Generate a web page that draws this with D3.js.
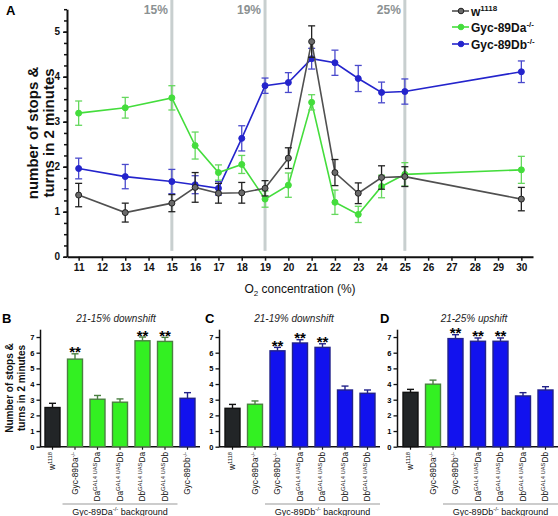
<!DOCTYPE html>
<html><head><meta charset="utf-8">
<script src="https://cdn.jsdelivr.net/npm/d3@7"></script>
<style>body{margin:0;background:#fff} svg{display:block} text{font-family:"Liberation Sans",Arial,sans-serif}</style>
</head><body>
<svg id="c" width="558" height="516"></svg>
<script>
// ---------- Panel A data ----------
const o2 = [11,13,15,16,17,18,19,20,21,22,23,24,25,30];
const xTicksA = [11,12,13,14,15,16,17,18,19,20,21,22,23,24,25,26,27,28,29,30];
const yTicksA = [0,1,2,3,4,5];
const w1118Mean = [1.37,0.98,1.19,1.54,1.41,1.42,1.52,2.19,4.78,1.87,1.41,1.76,1.78,1.28];
const w1118Err  = [0.26,0.21,0.19,0.33,0.22,0.23,0.17,0.23,0.35,0.29,0.23,0.26,0.22,0.26];
const daMean = [3.19,3.31,3.53,2.47,1.87,2.05,1.28,1.59,3.43,1.21,0.94,1.56,1.83,1.93];
const daErr  = [0.27,0.23,0.27,0.30,0.17,0.20,0.18,0.27,0.17,0.27,0.18,0.25,0.26,0.30];
const dbMean = [1.96,1.78,1.67,1.60,1.52,2.63,3.80,3.87,4.40,4.31,3.96,3.65,3.67,4.11];
const dbErr  = [0.23,0.27,0.27,0.20,0.15,0.28,0.17,0.22,0.23,0.28,0.29,0.23,0.28,0.24];
const shiftLines = [15,19,25];
const shiftLabels = ["15%","19%","25%"];
const seriesNames = ["w^{1118}","Gyc-89Da^{-/-}","Gyc-89Db^{-/-}"];

// ---------- Panels B-D data ----------
const yTicksBar = [0,1,2,3,4,5,6,7];
const catsB = ["w^{1118}","Gyc-89Da^{-/-}","Da^{GAL4 UAS}Da","Da^{GAL4 UAS}Db","Db^{GAL4 UAS}Da","Db^{GAL4 UAS}Db","Gyc-89Db^{-/-}"];
const colB  = ["k","g","g","g","g","g","b"];
const valB  = [2.50,5.59,3.03,2.84,6.76,6.72,3.09];
const errB  = [0.27,0.34,0.24,0.21,0.24,0.26,0.36];
const sigB  = [0,1,0,0,1,1,0];
const catsCD = ["w^{1118}","Gyc-89Da^{-/-}","Gyc-89Db^{-/-}","Da^{GAL4 UAS}Da","Da^{GAL4 UAS}Db","Db^{GAL4 UAS}Da","Db^{GAL4 UAS}Db"];
const colCD = ["k","g","b","b","b","b","b"];
const valC  = [2.45,2.71,6.12,6.62,6.34,3.62,3.41];
const errC  = [0.25,0.21,0.22,0.21,0.23,0.25,0.21];
const sigC  = [0,0,1,1,1,0,0];
const valD  = [3.47,3.99,6.90,6.73,6.73,3.24,3.62];
const errD  = [0.19,0.26,0.25,0.21,0.21,0.21,0.21];
const sigD  = [0,0,1,1,1,0,0];

const svg = d3.select("#c");
const FONT = '"Liberation Sans",Arial,sans-serif';

function richText(sel, str, supSize, supShift) {
  const parts = str.split(/\^\{([^}]*)\}/);
  let pend = 0;
  parts.forEach((p, i) => {
    if (p === "") return;
    const t = sel.append("tspan").text(p);
    if (i % 2 === 1) {
      t.attr("dy", -supShift + pend).attr("font-size", supSize);
      pend = supShift;
    } else {
      if (pend) t.attr("dy", pend);
      pend = 0;
    }
  });
}

// ================= Panel A =================
const xA = d3.scaleLinear().domain([10.5,30.5]).range([67,533]);
const yA = d3.scaleLinear().domain([0,5.5]).range([256.7,9.2]);
const gA = svg.append("g");

gA.selectAll("line.shift").data(shiftLines).join("line")
  .attr("x1", d => xA(d)).attr("x2", d => xA(d))
  .attr("y1", 0).attr("y2", yA(0.13))
  .attr("stroke", "#c8cfcf").attr("stroke-width", 3);
gA.selectAll("text.shift").data(shiftLines).join("text")
  .attr("x", d => xA(d) - 4).attr("y", 14)
  .attr("text-anchor", "end").attr("font-size", 12).attr("font-weight", "bold")
  .attr("fill", "#8b9192").text((d, i) => shiftLabels[i]);

// axes
const yAxA = gA.append("g").attr("transform", "translate(67,0)")
  .call(d3.axisLeft(yA).tickValues(yTicksA).tickFormat(d3.format("d")).tickSize(4).tickSizeOuter(0).tickPadding(3));
const yMinor = gA.append("g").attr("transform", "translate(67,0)")
  .call(d3.axisLeft(yA).tickValues(d3.range(0, 5.51, 0.25)).tickSize(3).tickSizeOuter(0).tickFormat(""));
yMinor.select(".domain").remove();
const xAxA = gA.append("g").attr("transform", "translate(0," + yA(0) + ")")
  .call(d3.axisBottom(xA).tickValues(xTicksA).tickFormat(d3.format("d")).tickSize(4).tickSizeOuter(0).tickPadding(3));
[yAxA, xAxA].forEach(a => {
  a.select(".domain").attr("stroke", "#111").attr("stroke-width", 2);
  a.selectAll("text").attr("font-size", 10).attr("font-weight", "bold").attr("font-family", FONT).attr("fill", "#111");
});
gA.selectAll(".tick line").attr("stroke", "#111").attr("stroke-width", 1.5);

// axis titles
const yt = gA.append("g").attr("transform", "translate(0,133) rotate(-90)");
yt.append("text").attr("x", 0).attr("y", 38).attr("text-anchor", "middle")
  .attr("font-size", 15).attr("font-weight", "bold").attr("fill", "#111").text("number of stops &");
yt.append("text").attr("x", 0).attr("y", 54).attr("text-anchor", "middle")
  .attr("font-size", 15).attr("font-weight", "bold").attr("fill", "#111").text("turns in 2 minutes");
const xt = gA.append("text").attr("x", 300).attr("y", 293).attr("text-anchor", "middle")
  .attr("font-size", 12).attr("fill", "#111");
xt.append("tspan").text("O");
xt.append("tspan").attr("dy", 3).attr("font-size", 8).text("2");
xt.append("tspan").attr("dy", -3).text(" concentration (%)");

gA.append("text").attr("x", 6).attr("y", 15).attr("font-size", 13).attr("font-weight", "bold").text("A");

const series = [
  {mean: dbMean, err: dbErr, line: "#2424cc", fill: "#2424cc", stroke: "#2424cc", eb: "#4a4acc"},
  {mean: daMean, err: daErr, line: "#44dd3c", fill: "#44dd3c", stroke: "#44dd3c", eb: "#66d85e"},
  {mean: w1118Mean, err: w1118Err, line: "#505050", fill: "#6a6a6a", stroke: "#222", eb: "#222"}
];
series.forEach(s => {
  const pts = o2.map((x, i) => ({x, m: s.mean[i], e: s.err[i]}));
  const g = gA.append("g");
  g.append("path").datum(pts)
    .attr("d", d3.line().x(d => xA(d.x)).y(d => yA(d.m)))
    .attr("fill", "none").attr("stroke", s.line).attr("stroke-width", 1.6);
  const eb = g.selectAll("g.eb").data(pts).join("g").attr("stroke", s.eb).attr("stroke-width", 1.3);
  eb.append("line").attr("x1", d => xA(d.x)).attr("x2", d => xA(d.x))
    .attr("y1", d => yA(d.m - d.e)).attr("y2", d => yA(d.m + d.e));
  eb.append("line").attr("x1", d => xA(d.x) - 3.5).attr("x2", d => xA(d.x) + 3.5)
    .attr("y1", d => yA(d.m + d.e)).attr("y2", d => yA(d.m + d.e));
  eb.append("line").attr("x1", d => xA(d.x) - 3.5).attr("x2", d => xA(d.x) + 3.5)
    .attr("y1", d => yA(d.m - d.e)).attr("y2", d => yA(d.m - d.e));
  g.selectAll("circle").data(pts).join("circle")
    .attr("cx", d => xA(d.x)).attr("cy", d => yA(d.m)).attr("r", 3)
    .attr("fill", s.fill).attr("stroke", s.stroke).attr("stroke-width", 1);
});

// legend
const legY = [11, 27, 44];
const legOrder = [2, 1, 0];
legOrder.forEach((si, k) => {
  const s = series[si];
  const y = legY[k];
  gA.append("line").attr("x1", 452).attr("x2", 469).attr("y1", y).attr("y2", y)
    .attr("stroke", s.line).attr("stroke-width", 1.6);
  gA.append("circle").attr("cx", 461).attr("cy", y).attr("r", 2.8)
    .attr("fill", s.fill).attr("stroke", s.stroke).attr("stroke-width", 1);
  const t = gA.append("text").attr("x", 471).attr("y", y + 4.5)
    .attr("font-size", 12).attr("font-weight", "bold").attr("fill", "#111");
  richText(t, seriesNames[k], 8, 5);
});

// ================= Panels B-D =================
const barFill = {k: "#222527", g: "#33f022", b: "#1212ee"};
const barStroke = {k: "#111", g: "#4a8040", b: "#22228a"};
const yBar = d3.scaleLinear().domain([0,7.5]).range([446.7,329.2]);

function panel(o) {
  const g = svg.append("g");
  const x = d3.scaleBand().domain(o.cats).range([o.x0, o.x0 + 150]).paddingInner(1/3).paddingOuter(0);
  const ax = g.append("g").attr("transform", "translate(" + o.axisX + ",0)")
    .call(d3.axisLeft(yBar).tickValues(yTicksBar).tickFormat(d3.format("d")).tickSize(3.5).tickSizeOuter(0).tickPadding(2));
  ax.select(".domain").attr("stroke", "#111").attr("stroke-width", 1.5);
  ax.selectAll("text").attr("font-size", 7.5).attr("font-weight", "bold").attr("font-family", FONT);
  ax.selectAll(".tick line").attr("stroke", "#111").attr("stroke-width", 1.3);
  const bx = g.append("g").attr("transform", "translate(0," + yBar(0) + ")")
    .call(d3.axisBottom(x).tickSize(3).tickSizeOuter(0).tickFormat(""));
  bx.select(".domain").attr("stroke", "#111").attr("stroke-width", 1.5)
    .attr("d", "M" + o.axisX + ",0H" + (o.x0 + 155));
  bx.selectAll(".tick line").attr("stroke", "#111").attr("stroke-width", 1.2);
  bx.selectAll(".tick text").remove();

  const data = o.cats.map((c, i) => ({c, v: o.vals[i], e: o.errs[i], col: o.cols[i], s: o.sig[i]}));
  // error bars
  const eb = g.selectAll("g.eb").data(data).join("g").attr("stroke", d => barStroke[d.col]).attr("stroke-width", 1.4);
  eb.append("line").attr("x1", d => x(d.c) + x.bandwidth()/2).attr("x2", d => x(d.c) + x.bandwidth()/2)
    .attr("y1", d => yBar(d.v)).attr("y2", d => yBar(d.v + d.e));
  eb.append("line").attr("x1", d => x(d.c) + x.bandwidth()/2 - 3.5).attr("x2", d => x(d.c) + x.bandwidth()/2 + 3.5)
    .attr("y1", d => yBar(d.v + d.e)).attr("y2", d => yBar(d.v + d.e));
  g.selectAll("rect").data(data).join("rect")
    .attr("x", d => x(d.c)).attr("width", x.bandwidth())
    .attr("y", d => yBar(d.v)).attr("height", d => yBar(0) - yBar(d.v))
    .attr("fill", d => barFill[d.col]).attr("stroke", d => barStroke[d.col]).attr("stroke-width", 1.4);
  g.selectAll("text.star").data(data.filter(d => d.s)).join("text")
    .attr("x", d => x(d.c) + x.bandwidth()/2).attr("y", d => yBar(d.v + d.e) + 3.5)
    .attr("text-anchor", "middle").attr("font-size", 15).attr("font-weight", "bold").text("**");

  // category labels
  data.forEach(d => {
    const cx = x(d.c) + x.bandwidth()/2 + 2.8;
    const t = g.append("text").attr("transform", "translate(" + cx + ",452) rotate(-90)")
      .attr("text-anchor", "end").attr("font-size", 8.3).attr("fill", "#111");
    richText(t, d.c, 5.8, 3.2);
  });

  // background bracket
  const xa = x(o.cats[o.bg[0]]) - 5, xb = x(o.cats[o.bg[1]]) + x.bandwidth() + 5;
  g.append("line").attr("x1", xa).attr("x2", xb).attr("y1", 504).attr("y2", 504)
    .attr("stroke", "#9a9a9a").attr("stroke-width", 1.2);
  const bt = g.append("text").attr("x", (xa + xb)/2).attr("y", 514.5).attr("text-anchor", "middle")
    .attr("font-size", 9).attr("fill", "#111");
  richText(bt, o.bgLabel, 6, 4);

  g.append("text").attr("x", o.titleX).attr("y", 322).attr("text-anchor", "middle")
    .attr("font-size", 10).attr("font-style", "italic").attr("fill", "#222").text(o.title);
  g.append("text").attr("x", o.letterX).attr("y", 323).attr("font-size", 13).attr("font-weight", "bold").text(o.letter);
}

panel({cats: catsB, cols: colB, vals: valB, errs: errB, sig: sigB, axisX: 40, x0: 45,
  bg: [1,5], bgLabel: "Gyc-89Da^{-/-} background", title: "21-15% downshift", titleX: 116, letter: "B", letterX: 2});
panel({cats: catsCD, cols: colCD, vals: valC, errs: errC, sig: sigC, axisX: 219, x0: 225,
  bg: [2,6], bgLabel: "Gyc-89Db^{-/-} background", title: "21-19% downshift", titleX: 294, letter: "C", letterX: 205});
panel({cats: catsCD, cols: colCD, vals: valD, errs: errD, sig: sigD, axisX: 397, x0: 403,
  bg: [2,6], bgLabel: "Gyc-89Db^{-/-} background", title: "21-25% upshift", titleX: 474, letter: "D", letterX: 380});

// bottom y title
const bt2 = svg.append("g").attr("transform", "translate(0,388) rotate(-90)");
bt2.append("text").attr("x", 0).attr("y", 13).attr("text-anchor", "middle")
  .attr("font-size", 10).attr("font-weight", "bold").attr("fill", "#111").text("Number of stops &");
bt2.append("text").attr("x", 0).attr("y", 25).attr("text-anchor", "middle")
  .attr("font-size", 10).attr("font-weight", "bold").attr("fill", "#111").text("turns in 2 minutes");
</script>
</body></html>
